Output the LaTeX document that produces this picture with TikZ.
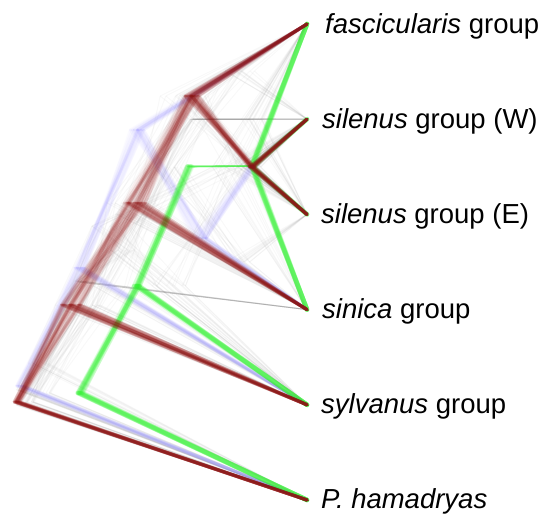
\documentclass[tikz,border=0pt]{standalone}
\usepackage{fontspec}
\setmainfont{Liberation Sans}
\definecolor{treered}{RGB}{145,18,18}
\definecolor{treegreen}{RGB}{50,240,50}
\definecolor{treeblue}{RGB}{135,125,255}
\definecolor{treegray}{RGB}{130,130,130}
\tikzset{
  redbr/.style={draw=treered, line width=3.2pt, opacity=0.07, line cap=round},
  greenbr/.style={draw=treegreen, line width=4.6pt, opacity=0.1, line cap=round},
  bluebr/.style={draw=treeblue, line width=3pt, opacity=0.035, line cap=round},
  graybr/.style={draw=treegray, line width=1pt, opacity=0.05},
  taxon/.style={anchor=base west, inner sep=0pt, font=\fontsize{27.5}{30}\selectfont},
}
\begin{document}
\begin{tikzpicture}[x=1pt, y=-1pt]
\useasboundingbox (0,0) rectangle (555,515);
\pgfmathsetseed{4711}

% tips of the six taxa
\coordinate (tF) at (307,24);
\coordinate (tW) at (307,119.2);
\coordinate (tE) at (307,214.4);
\coordinate (tS) at (307,309.6);
\coordinate (tY) at (307,404.8);
\coordinate (tH) at (307,500);

% ---- faint cloud of alternative trees ----
% (((F,E),W),S),Y),H
\foreach \k in {1,...,12}{
  \pgfmathsetmacro\xa{250+14*rand}
  \pgfmathsetmacro\xb{193+3*rand}
  \pgfmathsetmacro\xc{130+15*rand}
  \pgfmathsetmacro\xd{75+12*rand}
  \pgfmathsetmacro\xr{22+6*rand}
  \draw[graybr] (\xa,119) -- (tF);
  \draw[graybr] (\xa,119) -- (tE);
  \draw[graybr] (\xb,119) -- (\xa,119);
  \draw[graybr] (\xb,119) -- (tW);
  \draw[graybr] (\xc,214) -- (\xb,119);
  \draw[graybr] (\xc,214) -- (tS);
  \draw[graybr] (\xd,310) -- (\xc,214);
  \draw[graybr] (\xd,310) -- (tY);
  \draw[graybr] (\xr,405) -- (\xd,310);
  \draw[graybr] (\xr,405) -- (tH);
}
% (((F,(W,E)),Y),S),H
\foreach \k in {1,...,12}{
  \pgfmathsetmacro\xa{250+12*rand}
  \pgfmathsetmacro\xb{190+15*rand}
  \pgfmathsetmacro\xc{120+18*rand}
  \pgfmathsetmacro\xd{78+4*rand}
  \pgfmathsetmacro\xr{22+6*rand}
  \draw[graybr] (\xa,167) -- (tW);
  \draw[graybr] (\xa,167) -- (tE);
  \draw[graybr] (\xb,95) -- (\xa,167);
  \draw[graybr] (\xb,95) -- (tF);
  \draw[graybr] (\xc,250) -- (\xb,95);
  \draw[graybr] (\xc,250) -- (tY);
  \draw[graybr] (\xd,281) -- (\xc,250);
  \draw[graybr] (\xd,281) -- (tS);
  \draw[graybr] (\xr,390) -- (\xd,281);
  \draw[graybr] (\xr,390) -- (tH);
}
% (((F,W),(E,S)),Y),H
\foreach \k in {1,...,12}{
  \pgfmathsetmacro\xa{240+15*rand}
  \pgfmathsetmacro\xb{240+15*rand}
  \pgfmathsetmacro\xc{170+18*rand}
  \pgfmathsetmacro\xd{110+18*rand}
  \pgfmathsetmacro\xr{40+12*rand}
  \draw[graybr] (\xa,71) -- (tF);
  \draw[graybr] (\xa,71) -- (tW);
  \draw[graybr] (\xb,262) -- (tE);
  \draw[graybr] (\xb,262) -- (tS);
  \draw[graybr] (\xc,167) -- (\xa,71);
  \draw[graybr] (\xc,167) -- (\xb,262);
  \draw[graybr] (\xd,286) -- (\xc,167);
  \draw[graybr] (\xd,286) -- (tY);
  \draw[graybr] (\xr,393) -- (\xd,286);
  \draw[graybr] (\xr,393) -- (tH);
}
% (((F,S),((W,E),Y)),H)
\foreach \k in {1,...,10}{
  \pgfmathsetmacro\xa{230+18*rand}
  \pgfmathsetmacro\xb{235+15*rand}
  \pgfmathsetmacro\xc{170+18*rand}
  \pgfmathsetmacro\xd{110+20*rand}
  \pgfmathsetmacro\xr{40+12*rand}
  \draw[graybr] (\xa,167) -- (tF);
  \draw[graybr] (\xa,167) -- (tS);
  \draw[graybr] (\xb,167) -- (tW);
  \draw[graybr] (\xb,167) -- (tE);
  \draw[graybr] (\xc,286) -- (\xb,167);
  \draw[graybr] (\xc,286) -- (tY);
  \draw[graybr] (\xd,226) -- (\xa,167);
  \draw[graybr] (\xd,226) -- (\xc,286);
  \draw[graybr] (\xr,363) -- (\xd,226);
  \draw[graybr] (\xr,363) -- (tH);
}
% main topology, widely scattered
\foreach \k in {1,...,16}{
  \pgfmathsetmacro\xD{245+20*rand}
  \pgfmathsetmacro\xC{185+25*rand}
  \pgfmathsetmacro\xB{130+25*rand}
  \pgfmathsetmacro\xA{80+25*rand}
  \pgfmathsetmacro\xR{25+10*rand}
  \draw[graybr] (\xD,167) -- (tW);
  \draw[graybr] (\xD,167) -- (tE);
  \draw[graybr] (\xC,96) -- (tF);
  \draw[graybr] (\xC,96) -- (\xD,167);
  \draw[graybr] (\xB,203) -- (\xC,96);
  \draw[graybr] (\xB,203) -- (tS);
  \draw[graybr] (\xA,305) -- (\xB,203);
  \draw[graybr] (\xA,305) -- (tY);
  \draw[graybr] (\xR,402) -- (\xA,305);
  \draw[graybr] (\xR,402) -- (tH);
}
% thin single edges from isolated trees
\draw[treegray, line width=0.8pt, opacity=0.4] (193,119) -- (tW);
\draw[treegray, line width=0.8pt, opacity=0.35] (78,282) -- (tS);

% ---- blue topology: ((((W,E),S),F),Y),H ----
\foreach \k in {1,...,20}{
  \pgfmathsetmacro\xa{252+4*rand}
  \pgfmathsetmacro\xb{200+7*rand}
  \pgfmathsetmacro\xc{137+7*rand}
  \pgfmathsetmacro\xd{80+7*rand}
  \pgfmathsetmacro\xr{20+5*rand}
  \draw[bluebr] (\xa,167) -- (tW);
  \draw[bluebr] (\xa,167) -- (tE);
  \draw[bluebr] (\xb,238) -- (\xa,167);
  \draw[bluebr] (\xb,238) -- (tS);
  \draw[bluebr] (\xc,130) -- (\xb,238);
  \draw[bluebr] (\xc,130) -- (tF);
  \draw[bluebr] (\xd,268) -- (\xc,130);
  \draw[bluebr] (\xd,268) -- (tY);
  \draw[bluebr] (\xr,386) -- (\xd,268);
  \draw[bluebr] (\xr,386) -- (tH);
}

% ---- green topology: ((((F,S),(W,E)),Y),H) ----
\foreach \k in {1,...,14}{
  \pgfmathsetmacro\xa{252+2*rand}
  \pgfmathsetmacro\xb{252+2*rand}
  \pgfmathsetmacro\xc{190+3*rand}
  \pgfmathsetmacro\xd{137+3*rand}
  \pgfmathsetmacro\xr{80+3*rand}
  \draw[greenbr] (\xa,166) -- (tF);
  \draw[greenbr] (\xa,166) -- (tS);
  \draw[greenbr, opacity=0.05] (\xb,167) -- (tW);
  \draw[greenbr, opacity=0.05] (\xb,167) -- (tE);
  \draw[greenbr, line width=1.6pt] (\xc,166.5) -- (\xa,166);
  \draw[greenbr] (\xd,286) -- (\xc,166.5);
  \draw[greenbr] (\xd,286) -- (tY);
  \draw[greenbr] (\xr,393) -- (\xd,286);
  \draw[greenbr] (\xr,393) -- (tH);
}

% ---- red (main) topology: ((((F,(W,E)),S),Y),H) ----
\foreach \k in {1,...,34}{
  \pgfmathsetmacro\xD{252+3*rand}
  \pgfmathsetmacro\xC{192+7*rand}
  \pgfmathsetmacro\xB{135+11*rand}
  \pgfmathsetmacro\xA{72+11*rand}
  \pgfmathsetmacro\xR{17+3*rand}
  \draw[redbr] (\xD,167) -- (tW);
  \draw[redbr] (\xD,167) -- (tE);
  \draw[redbr] (\xC,96) -- (tF);
  \draw[redbr] (\xC,96) -- (\xD,167);
  \draw[redbr] (\xB,203) -- (\xC,96);
  \draw[redbr] (\xB,203) -- (tS);
  \draw[redbr] (\xA,305) -- (\xB,203);
  \draw[redbr] (\xA,305) -- (tY);
  \draw[redbr] (\xR,402) -- (\xA,305);
  \draw[redbr] (\xR,402) -- (tH);
}

% ---- taxon labels ----
\node[taxon] (lF) at (325,33)  {\textit{fascicularis} group};
\node[taxon] (lW) at (322,128) {\textit{silenus} group (W)};
\node[taxon] (lE) at (321,223) {\textit{silenus} group (E)};
\node[taxon] (lS) at (322,318) {\textit{sinica} group};
\node[taxon] (lY) at (321,413) {\textit{sylvanus} group};
\node[taxon] (lH) at (321,508) {\textit{P. hamadryas}};
\end{tikzpicture}
\end{document}
